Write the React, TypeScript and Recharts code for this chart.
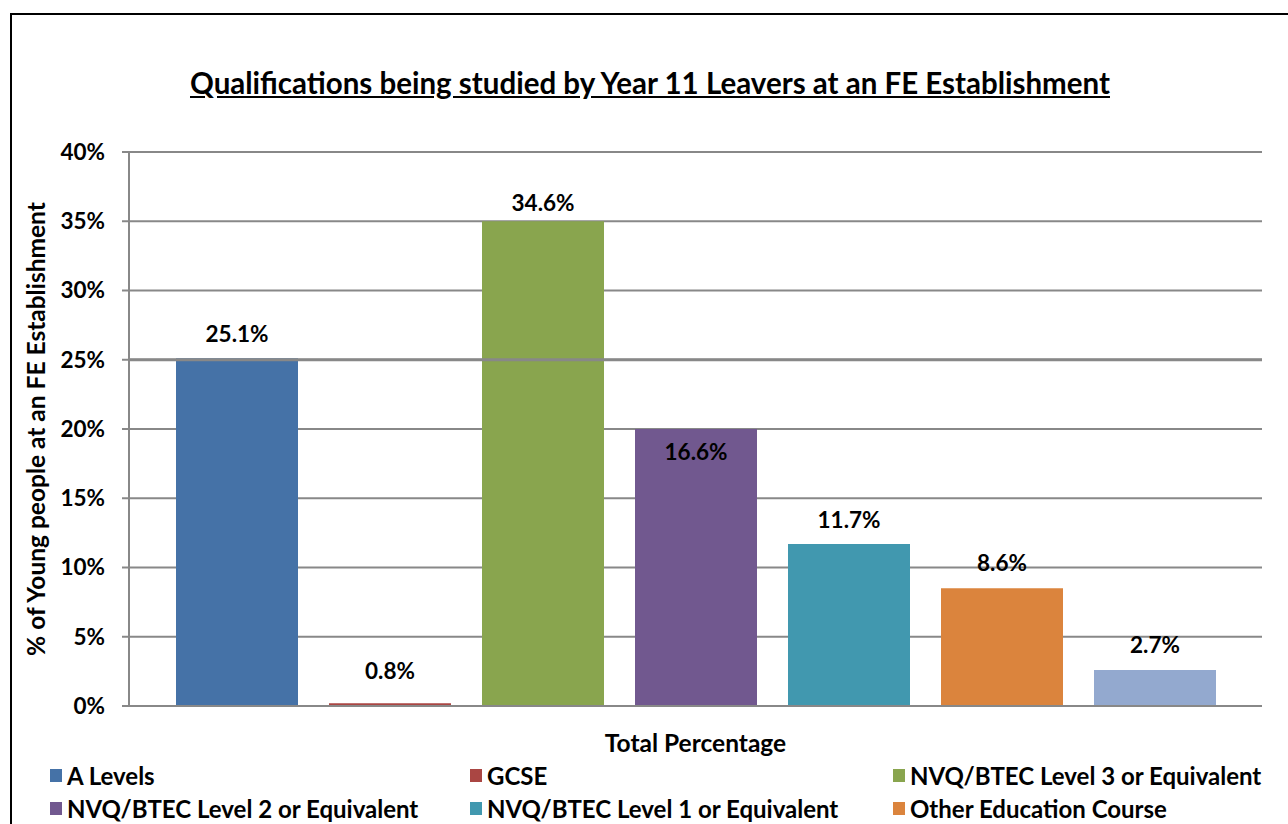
import React from 'react'
import {
  BarChart,
  Bar,
  XAxis,
  YAxis,
  CartesianGrid,
  LabelList,
  ReferenceLine,
} from 'recharts'

const CATEGORY = 'Total Percentage'

const SERIES_NAMES = [
  'A Levels',
  'GCSE',
  'NVQ/BTEC Level 3 or Equivalent',
  'NVQ/BTEC Level 2 or Equivalent',
  'NVQ/BTEC Level 1 or Equivalent',
  'Other Education Course',
  'Other Qualification',
]

// bar heights as drawn in the picture
const BAR_VALUES = [25.1, 0.2, 35.0, 20.0, 11.7, 8.5, 2.6]
// printed data labels
const LABEL_VALUES = [25.1, 0.8, 34.6, 16.6, 11.7, 8.6, 2.7]

const Y_TICKS = [0, 5, 10, 15, 20, 25, 30, 35, 40]

const COLORS = ['#4572A7', '#AA4643', '#89A54E', '#71588F', '#4198AF', '#DB843D', '#93A9CF']

const FONT = 'Lato, "Liberation Sans", sans-serif'

const row: Record<string, any> = { name: CATEGORY }
SERIES_NAMES.forEach((_, i) => {
  row[`s${i}`] = BAR_VALUES[i]
  row[`l${i}`] = LABEL_VALUES[i]
})
const data = [row]

function LegendBlock() {
  return (
    <div
      style={{
        position: 'absolute',
        left: 38,
        top: 747,
        width: 1250,
        display: 'grid',
        gridTemplateColumns: '420px 423px 420px',
        rowGap: 6,
        fontFamily: FONT,
        fontWeight: 700,
        fontSize: 24,
        lineHeight: '27px',
        color: '#000',
        whiteSpace: 'nowrap',
      }}
    >
      {SERIES_NAMES.map((name, i) => (
        <div key={name} style={{ display: 'flex', alignItems: 'center', height: 27 }}>
          <span
            style={{ width: 12, height: 13, background: COLORS[i], marginRight: 5, display: 'inline-block' }}
          />
          {name}
        </div>
      ))}
    </div>
  )
}

export default function App() {
  return (
    <div
      style={{
        position: 'fixed',
        left: 10,
        top: 13,
        width: 1278,
        height: 811,
        overflow: 'hidden',
        borderTop: '2px solid #000',
        borderLeft: '2px solid #000',
        boxSizing: 'border-box',
        background: '#fff',
      }}
    >
      <div
        style={{
          position: 'absolute',
          left: 0,
          width: 1276,
          top: 50,
          textAlign: 'center',
          fontFamily: FONT,
          fontWeight: 700,
          fontSize: 29.5,
          textDecoration: 'underline',
          color: '#000',
        }}
      >
        Qualifications being studied by Year 11 Leavers at an FE Establishment
      </div>
      <BarChart
        width={1276}
        height={809}
        data={data}
        margin={{ top: 137, right: 26, bottom: 44, left: 0 }}
        barGap={31}
        barCategoryGap={0}
      >
        <CartesianGrid vertical={false} stroke="#888" strokeWidth={2} />
        <XAxis
          dataKey="name"
          tick={false}
          tickLine={false}
          axisLine={{ stroke: '#888', strokeWidth: 2 }}
          height={74}
          label={{
            value: CATEGORY,
            position: 'center',
            fill: '#000',
            fontFamily: FONT,
            fontWeight: 700,
            fontSize: 24.5,
          }}
        />
        <XAxis xAxisId="lbl" dataKey="name" hide />
        <YAxis
          domain={[0, 40]}
          ticks={Y_TICKS}
          interval={0}
          width={117}
          tickFormatter={(v: number) => `${v}%`}
          tick={{ fill: '#000', fontFamily: FONT, fontWeight: 700, fontSize: 22.5 }}
          tickLine={{ stroke: '#888', strokeWidth: 2 }}
          tickSize={7}
          tickMargin={17}
          axisLine={{ stroke: '#888', strokeWidth: 2 }}
          label={{
            value: '% of Young people at an FE Establishment',
            angle: -90,
            position: 'insideLeft',
            offset: 24,
            style: { textAnchor: 'middle' },
            fill: '#000',
            fontFamily: FONT,
            fontWeight: 700,
            fontSize: 24.5,
          }}
        />
        <YAxis
          yAxisId="right"
          orientation="right"
          domain={[0, 40]}
          tick={false}
          tickLine={false}
          width={0}
          axisLine={{ stroke: '#888', strokeWidth: 2 }}
        />
        <ReferenceLine y={25} stroke="#888" strokeWidth={3} />
        {SERIES_NAMES.map((name, i) => (
          <Bar
            key={`s${i}`}
            dataKey={`s${i}`}
            name={name}
            fill={COLORS[i]}
            barSize={122}
            isAnimationActive={false}
          />
        ))}
        {SERIES_NAMES.map((name, i) => (
          <Bar
            key={`l${i}`}
            xAxisId="lbl"
            dataKey={`l${i}`}
            name={`${name} label`}
            fill="transparent"
            legendType="none"
            barSize={122}
            isAnimationActive={false}
          >
            <LabelList
              dataKey={`l${i}`}
              position="top"
              offset={16}
              formatter={(v: any) => `${Number(v).toFixed(1)}%`}
              fill="#000"
              fontFamily={FONT}
              fontWeight={700}
              fontSize={22.5}
            />
          </Bar>
        ))}
      </BarChart>
      <LegendBlock />
    </div>
  )
}
